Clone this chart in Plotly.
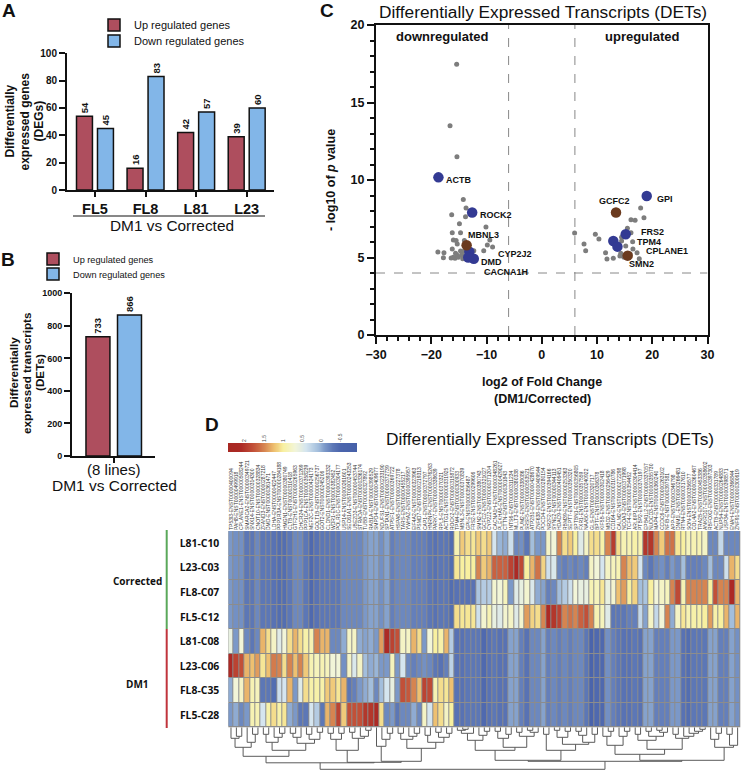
import plotly.graph_objects as go

W, H = 744, 772
FONT = "Liberation Sans"
UP_COLOR = "#AE4E5E"
DOWN_COLOR = "#82B6E8"

# ---- Panel A
lines_a = ["FL5", "FL8", "L81", "L23"]
up_a = [54, 16, 42, 39]
down_a = [45, 83, 57, 60]

# ---- Panel B
lines_b = ["(8 lines)"]
up_b = [733]
down_b = [866]

# ---- Panel C
grey_x = [-15.4, -16.6, -15.35, -14.2, -13.7, -16.3, -13.8, -14.9, -10.1, -16.2, -14.7, -16.0, -15.5, -15.3, -14.0,
          -9.4, -9.85, -8.9, -16.2, -10.5, -18.8, -17.7, -17.8, -16.4, -15.6, -14.7, -14.2, -12.3, -15.7, -15.1,
          -14.5, -13.9, -15.3, -13.6, -14.3, -16.0,
          17.9, 18.5, 16.15, 16.9, 15.5, 16.15, 5.95, 9.7, 10.35, 14.45, 14.45, 16.45, 7.65, 7.95, 15.2, 16.5,
          11.55, 17.25, 11.8, 12.95, 14.3, 14.65, 14.15, 14.9, 17.65, 16.0]
grey_y = [17.46, 13.5, 11.5, 8.75, 8.2, 7.76, 7.63, 7.18, 6.97, 6.6, 6.6, 6.13, 6.09, 5.87, 6.09,
          6.13, 5.81, 5.68, 5.55, 5.44, 5.35, 5.31, 4.99, 4.97, 5.27, 5.42, 5.38, 5.44, 4.95, 5.01,
          5.16, 5.05, 5.14, 4.88, 4.92, 5.01,
          8.19, 7.57, 7.44, 7.4, 6.88, 6.6, 6.58, 6.5, 6.2, 6.3, 6.06, 6.02, 5.87, 5.44, 5.74, 5.55,
          5.31, 5.31, 4.9, 4.95, 5.27, 5.1, 5.1, 5.01, 4.92, 5.23]
blue_x = [-18.7, -12.6, 19.0, 15.2, 12.95, 13.7, -13.1, -12.3, -13.3]
blue_y = [10.17, 7.9, 8.97, 6.5, 6.06, 5.7, 5.37, 4.92, 5.0]
brown_x = [13.44, -13.6, 15.55]
brown_y = [7.9, 5.79, 5.12]

# ---- Panel D
row_labels = ["L81-C10", "L23-C03", "FL8-C07", "FL5-C12", "L81-C08", "L23-C06", "FL8-C35", "FL5-C28"]
corrected_left = [-.1, -.15, -.15, -.3, -.3, -.2, -.3, -.3, -.35, -.4, -.4, -.3, -.2, -.2, -.3, -.45, -.35, -.3, -.3, -.3,
                  -.3, -.2, -.2, -.2, -.2, -.1, -.05, -.05, -.15, -.05, -.25, -.2, -.2, -.2, -.25, -.25, -.25, -.3, -.35, -.3,
                  -.3, -.4]
dm1_right = [-.35, -.35, -.3,
             -.3, -.3, -.45, -.35, -.3, -.35, -.35, -.05, -.05, -.25, -.35, -.2, -.2, -.05, -.25, -.2, -.25, -.2, -.25, -.2,
             -.2, -.3, -.5, -.45, -.45, -.15, -.25, -.3, -.35, -.35, -.3, -.35, -.05, -.05, -.25, -.25, -.25, -.1, -.1, -.35,
             -.4, -.3, -.3, -.3, -.05, -.05, -.25, -.25, -.05, -.15]
l81_c10_right = [.9, 1.2, 1.1,
                 1.05, 1.2, 1.1, 1.2, .4, .05, 0, .35, -.2, -.15, -.3, .1, -.1, -.1, .8, .7, 1.5, 1.1, 1.2, 1.0,
                 .5, .8, 1.1, 1.1, .95, 1.5, 1.95, 1.1, .9, .9, .95, .9, 2.0, 2.0, 1.5, 1.2, 1.6, 1.6, 1.05, 1.0,
                 .85, .9, .9, .8, -.2, -.2, .3, -.2, -.2, -.2]
l23_c03_right = [1.05, 1.0, 1.0,
                 1.0, 1.5, 1.2, 1.3, 1.7, 1.7, 1.7, 1.9, 2.1, 1.85, 1.0, 1.3, 1.6, 1.15, .35, .45, -.2, -.25, -.2, -.25,
                 -.2, -.25, .8, .7, .4, .8, .85, .9, 1.5, 1.25, 1.2, .4, -.2, -.3, -.2, -.15, -.25, -.1, -.2, .1,
                 -.25, -.25, -.25, -.2, .1, -.2, -.2, .35, 1.3, 1.1]
fl8_c07_right = [-.35, -.35, -.35,
                 -.35, .15, .2, .2, .75, .7, .85, -.1, .5, .6, .75, .45, 0, -.05, -.25, -.2, .1, .2, .35, .7,
                 .6, .6, .9, .85, 1.05, .6, .75, 1.25, 1.4, 1.0, 1.15, .1, .15, 1.0, .7, .8, .85, 1.5, 1.85, .9,
                 1.5, 1.5, 1.5, 1.5, 1.0, 1.8, 1.5, 1.5, 2.1, 1.3]
fl5_c12_right = [1.1, 1.05, 1.05,
                 1.05, .35, .75, .9, .6, .5, .75, .8, .5, .75, 1.4, 1.15, 1.1, 1.5, 2.1, 2.0, 1.9, 1.5, 1.6, 1.5,
                 1.7, 1.8, 1.5, .9, .85, .5, -.3, -.3, -.3, -.25, -.25, .3, -.05, .8, .3, .7, 1.5, 0, .8, 1.05,
                 .9, .95, .95, 1.0, 1.4, .95, 1.0, 1.3, .1, 1.3]
l81_c08_left = [.6, -.1, .7, -.2, -.3, -.2, 1.3, 1.1, .8, .5, .7, 1.1, 1.3, 1.1, .95, .9, 1.5, 1.3, 1.3, -.2,
                -.2, 0, .8, .8, 0, -.05, 0, -.1, 1.4, 2.1, 1.9, 1.8, .8, .8, 1.3, 1.1, -.1, .7, 1.0, .95,
                1.3, .2]
l23_c06_left = [2.1, 1.9, 1.8, 1.3, 1.25, 1.4, 1.05, 1.25, 1.55, 1.5, 1.1, 1.5, 1.25, 1.5, 1.2, .9, .85, .9, .85, .7,
                .7, -.15, .8, .45, .8, .1, 0, .05, -.1, -.1, .85, -.1, .4, -.2, -.25, -.2, -.15, -.2, -.3, -.35,
                -.25, .25]
fl8_c35_left = [0, .7, .8, 1.3, .9, .85, -.3, -.3, -.4, .35, .4, 1.3, -.1, .5, 1.1, .95, .95, .95, 1.2, 1.2,
                1.05, 1.3, -.3, -.25, -.1, 0, .1, -.2, .1, .4, .6, -.1, 1.8, 1.75, 1.5, 1.25, 1.9, 1.85, .9, 1.1,
                1.05, 1.25]
fl5_c28_left = [-.1, 0, -.2, -.1, .9, .9, .4, .95, 1.1, .95, 1.05, 0, -.1, -.3, -.3, .4, .2, -.3, 1.3, 1.5,
                1.9, 1.2, 1.8, 1.8, 1.8, 2.0, 2.0, 2.1, 1.1, -.2, -.1, -.3, -.2, -.2, 0, -.2, .8, .4, 1.25, 1.1,
                .8, 1.0]

column_labels = [
 "TP53I3-ENST00000400094", "PAH8-ENST00000499918", "CPLANE1-ENST00000508244", "SMARCA2-ENST00000349721",
 "SNX14-ENST00000314300", "CNOT10-ENST00000328834", "ZFAND3-ENST00000287218", "DMD-ENST00000361471",
 "LDHA-ENST00000422447", "PPP1R3A-ENST00000284188", "HMGN1-ENST00000380749", "CLTB-ENST00000310418",
 "GTF2H1-ENST00000265963", "DHCR24-ENST00000371269", "PPP1CA-ENST00000358239", "MEF2C-ENST00000424173",
 "GOLT1B-ENST00000256737", "GOT2-ENST00000245206", "CLDND1-ENST00000393332", "WDR1-ENST00000382452",
 "POLR1C-ENST00000304177", "USP14-ENST00000261601", "SEC61A1-ENST00000243253", "UBE2D3-ENST00000453744",
 "STRADA-ENST00000336174", "TUBB-ENST00000327892", "RAB1A-ENST00000398529", "SMPD4-ENST00000409677",
 "NDUFS1-ENST00000233190", "SPTAN1-ENST00000372739", "ATP5F1-ENST00000369722", "HSPA8-ENST00000227378",
 "TARS-ENST00000455217", "YWHAZ-ENST00000395957", "EIF4A2-ENST00000323963", "PSMD7-ENST00000219313",
 "CAP1-ENST00000372797", "HNRNPK-ENST00000376263", "PARK7-ENST00000338639", "RPL5-ENST00000370321",
 "ACTG1-ENST00000331925", "ROCK2-ENST00000315872",
 "TPM4-ENST00000300933", "MBNL3-ENST00000370839", "GPI-ENST00000356487", "FRS2-ENST00000299606",
 "SMN2-ENST00000380743", "GCFC2-ENST00000321027", "CYP2J2-ENST00000371204", "CACNA1H-ENST00000348261",
 "PLEKHA5-ENST00000429027", "CTTN-ENST00000301843", "INTS6-ENST00000311234", "MLLT3-ENST00000380338",
 "PUM2-ENST00000338086", "SRSF5-ENST00000553521", "ATP2B1-ENST00000428670", "ZNF638-ENST00000409544",
 "PDCD4-ENST00000280154", "NR2F2-ENST00000394166", "SYNE2-ENST00000344113", "HDAC9-ENST00000406451",
 "RBM39-ENST00000253363", "SEPT7-ENST00000350320", "SPTBN1-ENST00000356805", "FXR1-ENST00000357559",
 "NAA50-ENST00000240922", "GLS-ENST00000320717", "BPTF-ENST00000306378", "KIF5B-ENST00000302418",
 "MBD2-ENST00000256429", "CD164-ENST00000310786", "CALM2-ENST00000272298", "NCOA3-ENST00000371998",
 "TCF4-ENST00000354452", "ARL6IP1-ENST00000304414", "PTBP2-ENST00000370197", "EPB41L2-ENST00000337057",
 "NUDCD3-ENST00000355730", "MAP4-ENST00000360240", "CCDC6-ENST00000263102", "NFIB-ENST00000397581",
 "APP-ENST00000346798", "DNM1L-ENST00000266481", "RTN4-ENST00000317610", "SON-ENST00000356577",
 "COL4A2-ENST00000360467", "TRA2B-ENST00000453386", "ANKRD17-ENST00000358602", "RBFOX2-ENST00000397303",
 "ACTB-ENST00000331789", "NUP54-ENST00000264883", "USP34-ENST00000398571", "ENAH-ENST00000366844",
 "ZNF91-ENST00000300619"]

colorbar_levels = [2.44, 2.34, 2.24, 2.14, 2.04, 1.94, 1.84, 1.74, 1.64, 1.54, 1.44, 1.34, 1.24, 1.14, 1.04, .94, .84,
                   .74, .64, .54, .44, .34, .24, .14, .04, -.06, -.16, -.26, -.36, -.46, -.56, -.66, -.76, -.86, -.94]

# Merge tree of the columns: (distance, left, right); leaves are column positions
s1 = (20, (11, 0, (9, 1, 2)), (15, 3, (7, 4, 5)))
s2 = (15, (7, 6, 7), (10, 8, (6, 9, 10)))
s3 = (16, (10, (6, 11, 12), 13), (12, (7, 14, 15), (5, 16, 17)))
s4 = (12, (6, 18, 19), (6, 20, 21))
s5 = (11, (5, 22, 23), (9, 24, (3, 25, 26)))
s6 = (19, 27, (12, 28, (6, 29, 30)))
s7 = (12, (6, 31, 32), (9, 33, (6, 34, 35)))
s8 = (15, (8, 36, 37), (10, (5, 38, 39), (6, 40, 41)))
left_tree = (35.5, (29, s1, (23, s2, s3)), (35, (23, s4, s5), (34, s6, (21, s7, s8))))
r1 = (13, (6, (3, 42, (2, 43, 44)), 45), (8, 46, (4, 47, 48)))
r2 = (20, (11, (4, 49, 50), (7, 51, 52)), (9, (5, 53, 54), (5, (3, 55, 56), 57)))
r3 = (7, 58, 59)
r4 = (17, (10, (3, 60, 61), (4, 62, 63)), (15, (8, (4, 64, 65), 66), (7, 67, 68)))
r5 = (18, (9, 69, (4, 70, 71)), (9, 72, (4, 73, 74)))
r6 = (22, (13, (7, 75, 76), (9, (4, 77, 78), (5, (3, 79, 80), 81))),
      (11, (7, 82, 83), (9, 84, (6, 85, (4, 86, (2, 87, 88))))))
r7 = (20, (12, 89, (6, 90, 91)), (18, (7, 92, 93), 94))
right_tree = (34, (33, (23, r1, r2), (23, r3, r4)), (33, (27, r5, r6), r7))
dendrogram_tree = (42, left_tree, right_tree)


def left_rows():
    return [corrected_left] * 4 + [l81_c08_left, l23_c06_left, fl8_c35_left, fl5_c28_left]


def right_rows():
    return [l81_c10_right, l23_c03_right, fl8_c07_right, fl5_c12_right] + [dm1_right] * 4


heat_z = [a + b for a, b in zip(left_rows(), right_rows())]
for r in heat_z:
    assert len(r) == len(column_labels), (len(r), len(column_labels))

SCALE_LO, SCALE_HI = -.94, 2.44
stops = [(-.94, "#4560a8"), (-.5, "#4a64ac"), (-.3, "#5c77b6"), (-.1, "#7b98c8"), (.1, "#a3bedc"), (.4, "#d5e5ef"),
         (.7, "#f2f5d8"), (1.0, "#f8f0a0"), (1.25, "#eec070"), (1.5, "#d68450"), (1.8, "#c25038"), (2.1, "#ac2a25"),
         (2.44, "#a82822")]
colorscale = [[(v - SCALE_LO) / (SCALE_HI - SCALE_LO), c] for v, c in stops]


def hdom(a, b):
    return [a / W, b / W]


def vdom(top, bottom):
    return [1 - bottom / H, 1 - top / H]


def walk(node, xs, ys):
    if isinstance(node, int):
        return node, 0
    h, l, r = node
    lx, lh = walk(l, xs, ys)
    rx, rh = walk(r, xs, ys)
    xs += [lx, lx, rx, rx, None]
    ys += [lh, h, h, rh, None]
    return (lx + rx) / 2, h


fig = go.Figure()
val_font = dict(size=9.5, color="#111", family=FONT, weight="bold")
bar_line = dict(color="#111", width=1.5)

# A
fig.add_bar(x=lines_a, y=up_a, name="Up regulated genes", marker=dict(color=UP_COLOR, line=bar_line),
            text=up_a, textposition="outside", textangle=-90, cliponaxis=False, constraintext="none",
            outsidetextfont=val_font, xaxis="x", yaxis="y", legend="legend")
fig.add_bar(x=lines_a, y=down_a, name="Down regulated genes", marker=dict(color=DOWN_COLOR, line=bar_line),
            text=down_a, textposition="outside", textangle=-90, cliponaxis=False, constraintext="none",
            outsidetextfont=val_font, xaxis="x", yaxis="y", legend="legend2")
# B
fig.add_bar(x=lines_b, y=up_b, name="Up regulated genes", marker=dict(color=UP_COLOR, line=bar_line),
            text=up_b, textposition="outside", textangle=-90, cliponaxis=False, constraintext="none",
            outsidetextfont=val_font, xaxis="x2", yaxis="y2", legend="legend3")
fig.add_bar(x=lines_b, y=down_b, name="Down regulated genes", marker=dict(color=DOWN_COLOR, line=bar_line),
            text=down_b, textposition="outside", textangle=-90, cliponaxis=False, constraintext="none",
            outsidetextfont=val_font, xaxis="x2", yaxis="y2", legend="legend4")
# C
fig.add_scatter(x=grey_x, y=grey_y, mode="markers", marker=dict(size=5, color="#7d7d7d"), xaxis="x3", yaxis="y3", showlegend=False)
fig.add_scatter(x=blue_x, y=blue_y, mode="markers", marker=dict(size=10.5, color="#333a93"), xaxis="x3", yaxis="y3", showlegend=False)
fig.add_scatter(x=brown_x, y=brown_y, mode="markers", marker=dict(size=10.5, color="#6b3a1e"), xaxis="x3", yaxis="y3", showlegend=False)
# D
fig.add_heatmap(z=heat_z, x=column_labels, y=row_labels, xgap=1, ygap=1, colorscale=colorscale,
                zmin=SCALE_LO, zmax=SCALE_HI, showscale=False, xaxis="x4", yaxis="y4")
fig.add_heatmap(z=[colorbar_levels], x=colorbar_levels, y=["scale"], colorscale=colorscale,
                zmin=SCALE_LO, zmax=SCALE_HI, showscale=False, xaxis="x5", yaxis="y5", zsmooth="best")
dx, dy = [], []
walk(dendrogram_tree, dx, dy)
fig.add_scatter(x=dx, y=dy, mode="lines", line=dict(color="#5a5a5a", width=1), xaxis="x6", yaxis="y6",
                showlegend=False, connectgaps=False)


def legend_at(x, y, size):
    return dict(x=x / W, y=1 - y / H, xanchor="left", yanchor="middle", font=dict(size=size, family=FONT),
                bgcolor="rgba(0,0,0,0)")


layout = dict(
    width=W, height=H, autosize=False, margin=dict(l=0, r=0, t=0, b=0, autoexpand=False),
    paper_bgcolor="white", plot_bgcolor="white", font=dict(family=FONT, color="#111"),
    barmode="group", bargap=.17, bargroupgap=.24,
    showlegend=True,
    legend=legend_at(94, 25, 11), legend2=legend_at(94, 41, 11),
    legend3=legend_at(33, 259, 9.2), legend4=legend_at(33, 274, 9.2),
    xaxis=dict(domain=hdom(67, 274), range=[-.553, 3.54], anchor="y", showline=True, linewidth=2, linecolor="#111",
               ticks="outside", ticklen=5, tickwidth=2, tickcolor="#111", showgrid=False,
               tickfont=dict(size=14.5, family=FONT, weight="bold", color="#111"), type="category", fixedrange=True),
    yaxis=dict(domain=vdom(53.3, 190), range=[0, 100], dtick=20, anchor="x", showline=True, linewidth=2, linecolor="#111",
               ticks="outside", ticklen=6, tickwidth=2, tickcolor="#111", showgrid=False, zeroline=False,
               tickfont=dict(size=10, family=FONT, weight="bold", color="#111")),
    xaxis2=dict(domain=hdom(72, 155), range=[-.549, .543], anchor="y2", showline=True, linewidth=2, linecolor="#111",
                ticks="outside", ticklen=5, tickwidth=1.5, tickcolor="#111", showgrid=False, type="category",
                ticklabelstandoff=-6, tickfont=dict(size=15, family=FONT, color="#111")),
    yaxis2=dict(domain=vdom(293.3, 456), range=[0, 1000], dtick=200, anchor="x2", showline=True, linewidth=2, linecolor="#111",
                ticks="outside", ticklen=6, tickwidth=1.5, tickcolor="#111", showgrid=False, zeroline=False,
                tickfont=dict(size=9, family=FONT, weight="bold", color="#111")),
    xaxis3=dict(domain=hdom(376, 707.5), range=[-30, 30], dtick=10, anchor="y3", showline=True, mirror=True, linewidth=2,
                linecolor="#111", ticks="outside", ticklen=7, tickwidth=1.5, tickcolor="#111", showgrid=False, zeroline=False,
                minor=dict(dtick=2, ticks="outside", ticklen=4, tickwidth=1.5, tickcolor="#111"),
                tickfont=dict(size=12.5, family=FONT, weight="bold", color="#111")),
    yaxis3=dict(domain=vdom(25, 335), range=[0, 20], dtick=5, anchor="x3", showline=True, mirror=True, linewidth=2,
                linecolor="#111", ticks="outside", ticklen=7, tickwidth=1.5, tickcolor="#111", showgrid=False, zeroline=False,
                minor=dict(dtick=1, ticks="outside", ticklen=4, tickwidth=1.5, tickcolor="#111"),
                tickfont=dict(size=12.5, family=FONT, weight="bold", color="#111")),
    xaxis4=dict(domain=hdom(228.3, 740.3), anchor="y4", side="top", type="category", tickmode="array",
                tickvals=column_labels, ticktext=column_labels, tickangle=-90, ticks="", showgrid=False,
                tickfont=dict(size=5, family=FONT, color="#333")),
    yaxis4=dict(domain=vdom(531, 727.3), anchor="x4", type="category", autorange="reversed", tickmode="array",
                tickvals=row_labels, ticktext=row_labels, ticks="", showgrid=False, ticklabelstandoff=8,
                tickfont=dict(size=10.4, family="Open Sans", weight="bold", color="#111")),
    xaxis5=dict(domain=hdom(228, 357), range=[2.44, -.94], anchor="y5", side="top", tickmode="array",
                tickvals=[2, 1.5, 1, .5, 0, -.5], ticktext=["2", "1.5", "1", "0.5", "0", "-0.5"], tickangle=-90,
                ticks="", showgrid=False, zeroline=False, tickfont=dict(size=5, family=FONT, color="#444")),
    yaxis5=dict(domain=vdom(443, 452), anchor="x5", showticklabels=False, ticks="", showgrid=False, type="category"),
    xaxis6=dict(domain=hdom(228.3, 740.3), range=[-.5, 94.5], anchor="y6", showticklabels=False, ticks="", showgrid=False,
                zeroline=False, showline=False),
    yaxis6=dict(domain=vdom(727.3, 771), range=[43.7, 0], anchor="x6", showticklabels=False, ticks="", showgrid=False,
                zeroline=False, showline=False),
)


def note(x, y, text, size, angle=0, color="#111", anchor="center", family=FONT):
    return dict(xref="paper", yref="paper", x=x / W, y=1 - y / H, text=text, showarrow=False, xanchor=anchor, yanchor="middle",
                textangle=angle, font=dict(size=size, family=family, color=color), align="center")


notes = [
    note(9, 10, "<b>A</b>", 19), note(8, 259, "<b>B</b>", 19), note(327, 10, "<b>C</b>", 19), note(212, 425, "<b>D</b>", 19),
    note(9, 121.5, "<b>Differentially</b>", 12, -90), note(24, 121.5, "<b>expressed genes</b>", 12, -90),
    note(38, 121.5, "<b>(DEGs)</b>", 12, -90),
    note(14, 373, "<b>Differentially</b>", 11.7, -90), note(27, 373, "<b>expressed transcripts</b>", 11.7, -90),
    note(40, 373, "<b>(DETs)</b>", 11.7, -90),
    note(172, 226, "DM1 vs Corrected", 15.4),
    note(114, 485, "DM1 vs Corrected", 15.5),
    note(543, 12, "Differentially Expressed Transcripts (DETs)", 17.3),
    note(550, 439, "Differentially Expressed Transcripts (DETs)", 17.3),
    note(442, 37, "<b>downregulated</b>", 13), note(641.7, 36.5, "<b>upregulated</b>", 13),
    note(331, 180, "<b>- log10 of <i>p</i> value</b>", 12.5, -90),
    note(542, 382, "<b>log2 of Fold Change</b>", 12.5), note(542, 399, "<b>(DM1/Corrected)</b>", 12.5),
    note(137.5, 581, "<b>Corrected</b>", 10, family="Open Sans"), note(137.5, 684, "<b>DM1</b>", 10, family="Open Sans"),
]
for name, x, y in [("ACTB", 444.3, 180), ("ROCK2", 478.3, 214.7), ("MBNL3", 465.7, 235.3), ("CYP2J2", 496.3, 254),
                   ("DMD", 479.3, 262.3), ("CACNA1H", 481.7, 271.7), ("GCFC2", 597.3, 200.7), ("GPI", 654.7, 199.3),
                   ("FRS2", 638.7, 232.3), ("TPM4", 635.3, 242.3), ("CPLANE1", 644.3, 250.7), ("SMN2", 626.7, 264)]:
    notes.append(note(x, y, f"<b>{name}</b>", 9, anchor="left"))
layout["annotations"] = notes

dash = dict(color="#888888", width=1, dash="dash")
layout["shapes"] = [
    dict(type="line", xref="x3", yref="y3", x0=-6, x1=-6, y0=0, y1=20, line=dash),
    dict(type="line", xref="x3", yref="y3", x0=6, x1=6, y0=0, y1=20, line=dash),
    dict(type="line", xref="x3", yref="y3", x0=-30, x1=30, y0=4, y1=4, line=dash),
    dict(type="line", xref="paper", yref="paper", x0=73 / W, x1=265 / W, y0=1 - 216 / H, y1=1 - 216 / H, line=dict(color="#111", width=1)),
    dict(type="line", xref="paper", yref="paper", x0=166.7 / W, x1=166.7 / W, y0=1 - 530 / H, y1=1 - 629 / H, line=dict(color="#5aa85a", width=2)),
    dict(type="line", xref="paper", yref="paper", x0=166.7 / W, x1=166.7 / W, y0=1 - 629 / H, y1=1 - 728 / H, line=dict(color="#c0343c", width=2)),
    dict(type="rect", xref="x4 domain", yref="y4 domain", x0=0, x1=1, y0=0, y1=1, layer="below", line=dict(width=0), fillcolor="#8c8c8c"),
]
fig.update_layout(**layout)
fig.write_html("out.html", config=dict(displayModeBar=False),
               post_script="document.body.style.margin='0';document.body.style.overflow='hidden';")
